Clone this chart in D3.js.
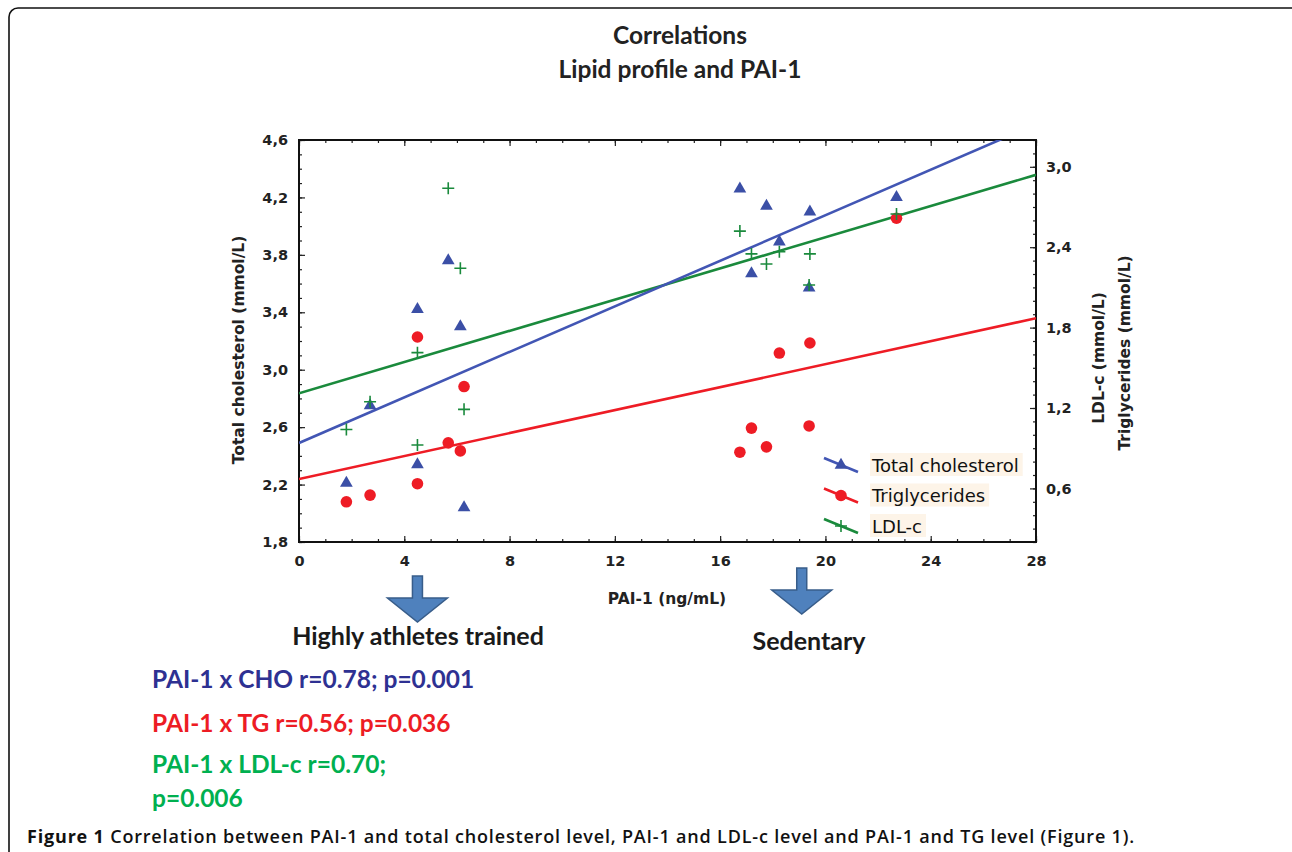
<!DOCTYPE html>
<html>
<head>
<meta charset="utf-8">
<script src="https://cdn.jsdelivr.net/npm/d3@7"></script>
<style>
body { margin:0; background:#fff; }
svg { display:block; }
</style>
</head>
<body>
<svg id="chart"></svg>
<script>
var width = 1292, height = 852;

// PAI-1 (ng/mL) of each subject
var pai = [1.8, 2.7, 4.5, 4.5, 5.67, 6.13, 6.27, 16.75, 17.19, 17.76, 18.25, 19.41, 19.38, 22.7];
var cho = [2.21, 2.75, 3.42, 2.34, 3.76, 3.30, 2.04, 4.26, 3.67, 4.14, 3.89, 4.10, 3.57, 4.20];
var tg  = [0.50, 0.55, 1.73, 0.635, 0.94, 0.88, 1.36, 0.87, 1.05, 0.91, 1.61, 1.685, 1.066, 2.616];
var ldl = [1.04, 1.247, 1.613, 0.924, 2.84, 2.243, 1.19, 2.52, 2.35, 2.275, 2.366, 2.35, 2.118, 2.648];

// fitted lines, value at PAI-1 = 0 and 28
var fitX = [0, 28];
var fitCHO = [2.49, 4.71];
var fitTG = [0.67, 1.87];
var fitLDL = [1.31, 2.94];

var xTicks = [0, 4, 8, 12, 16, 20, 24, 28];
var yLeftTicks = [1.8, 2.2, 2.6, 3.0, 3.4, 3.8, 4.2, 4.6];
var yRightTicks = [0.6, 1.2, 1.8, 2.4, 3.0];
var groupX = [4.5, 19.1];
var groupNames = ["Highly athletes trained", "Sedentary"];
var legendNames = ["Total cholesterol", "Triglycerides", "LDL-c"];
var statLines = ["PAI-1 x CHO r=0.78; p=0.001", "PAI-1 x TG r=0.56; p=0.036", "PAI-1 x LDL-c r=0.70;", "p=0.006"];

var cBlue = "#3b4fa6", cRed = "#ee1c25", cGreen = "#1a8a3c";

var svg = d3.select("#chart").attr("width", width).attr("height", height);

// outer frame
svg.append("rect").attr("x", 9).attr("y", 8).attr("width", 1300).attr("height", 900)
    .attr("rx", 9).attr("fill", "none").attr("stroke", "#111").attr("stroke-width", 1.6);

// titles
svg.append("text").attr("x", 680).attr("y", 44).attr("text-anchor", "middle")
    .style("font", "bold 24.5px Lato").attr("fill", "#222").text("Correlations");
svg.append("text").attr("x", 680).attr("y", 78).attr("text-anchor", "middle")
    .style("font", "bold 24.5px Lato").attr("fill", "#222").text("Lipid profile and PAI-1");

var margin = {left:299, right:1036, top:140, bottom:542};
var xScale = d3.scaleLinear().domain([0, 28]).range([margin.left, margin.right]);
var yLeft = d3.scaleLinear().domain([1.8, 4.6]).range([margin.bottom, margin.top]);
var yRight = d3.scaleLinear().domain([0.2, 3.2]).range([margin.bottom, margin.top]);

var comma = function(d){ return d.toFixed(1).replace(".", ","); };
var range = function(a, b, s){ var r = []; for (var v = a; v <= b + 1e-9; v += s) r.push(+v.toFixed(2)); return r; };

function styleAxis(g){
    g.selectAll("text").style("font", "bold 14.5px 'DejaVu Sans'").attr("fill", "#222");
    g.selectAll("line").attr("stroke", "#222").attr("stroke-width", 1.2);
    g.select(".domain").remove();
}

// minor ticks
svg.append("g").attr("transform", "translate(" + margin.left + ",0)")
    .call(d3.axisLeft(yLeft).tickValues(range(1.8, 4.6, 0.1)).tickSize(-3).tickFormat("")).call(styleAxis);
svg.append("g").attr("transform", "translate(" + margin.right + ",0)")
    .call(d3.axisRight(yRight).tickValues(range(0.2, 3.2, 0.1)).tickSize(-3).tickFormat("")).call(styleAxis);
svg.append("g").attr("transform", "translate(0," + margin.bottom + ")")
    .call(d3.axisBottom(xScale).tickValues(range(0, 28, 1)).tickSize(-3).tickFormat("")).call(styleAxis);
svg.append("g").attr("transform", "translate(0," + margin.top + ")")
    .call(d3.axisTop(xScale).tickValues(range(0, 28, 1)).tickSize(-3).tickFormat("")).call(styleAxis);

// major ticks + labels
svg.append("g").attr("transform", "translate(" + margin.left + ",0)")
    .call(d3.axisLeft(yLeft).tickValues(yLeftTicks).tickSize(-6).tickPadding(11).tickFormat(comma)).call(styleAxis);
svg.append("g").attr("transform", "translate(" + margin.right + ",0)")
    .call(d3.axisRight(yRight).tickValues(yRightTicks).tickSize(-6).tickPadding(10).tickFormat(comma)).call(styleAxis);
svg.append("g").attr("transform", "translate(0," + margin.bottom + ")")
    .call(d3.axisBottom(xScale).tickValues(xTicks).tickSize(-6).tickPadding(14).tickFormat(d3.format("d"))).call(styleAxis);
svg.append("g").attr("transform", "translate(0," + margin.top + ")")
    .call(d3.axisTop(xScale).tickValues(xTicks).tickSize(-6).tickFormat("")).call(styleAxis);

// plot frame
svg.append("rect").attr("x", margin.left).attr("y", margin.top)
    .attr("width", margin.right - margin.left).attr("height", margin.bottom - margin.top)
    .attr("fill", "none").attr("stroke", "#111").attr("stroke-width", 2);

// axis titles
var titleFont = "bold 15.5px 'DejaVu Sans'";
svg.append("text").attr("transform", "translate(244,350) rotate(-90)").attr("text-anchor", "middle")
    .style("font", titleFont).attr("fill", "#222").text("Total cholesterol (mmol/L)");
svg.append("text").attr("transform", "translate(1104,358) rotate(-90)").attr("text-anchor", "middle")
    .style("font", titleFont).attr("fill", "#222").text("LDL-c (mmol/L)");
svg.append("text").attr("transform", "translate(1130,353) rotate(-90)").attr("text-anchor", "middle")
    .style("font", titleFont).attr("fill", "#222").text("Triglycerides (mmol/L)");
svg.append("text").attr("x", 667).attr("y", 604).attr("text-anchor", "middle")
    .style("font", titleFont).attr("fill", "#222").text("PAI-1 (ng/mL)");

// clip for fit lines
svg.append("clipPath").attr("id", "plotclip").append("rect")
    .attr("x", margin.left).attr("y", margin.top)
    .attr("width", margin.right - margin.left).attr("height", margin.bottom - margin.top);

var chartLayer = svg.append("g").attr("clip-path", "url(#plotclip)");

var fits = [
    {vals: fitTG, y: yRight, color: cRed},
    {vals: fitLDL, y: yRight, color: cGreen},
    {vals: fitCHO, y: yLeft, color: "#4256b4"}
];
var lineGen = d3.line();
fits.forEach(function(f){
    chartLayer.append("path")
        .attr("d", lineGen(fitX.map(function(x, i){ return [xScale(x), f.y(f.vals[i])]; })))
        .attr("fill", "none").attr("stroke", f.color).attr("stroke-width", 2.6);
});

var tri = d3.symbol().type(d3.symbolTriangle).size(70);
var plus = "M-6,0H6M0,-6V6";

var pts = svg.append("g");
pts.selectAll(".cho").data(pai).enter().append("path").attr("class", "cho")
    .attr("d", tri)
    .attr("transform", function(d, i){ return "translate(" + xScale(d) + "," + yLeft(cho[i]) + ")"; })
    .attr("fill", cBlue);
pts.selectAll(".tg").data(pai).enter().append("circle").attr("class", "tg")
    .attr("cx", function(d){ return xScale(d); })
    .attr("cy", function(d, i){ return yRight(tg[i]); })
    .attr("r", 5.8).attr("fill", cRed);
pts.selectAll(".ldl").data(pai).enter().append("path").attr("class", "ldl")
    .attr("d", plus)
    .attr("transform", function(d, i){ return "translate(" + xScale(d) + "," + yRight(ldl[i]) + ")"; })
    .attr("fill", "none").attr("stroke", cGreen).attr("stroke-width", 1.6);

// legend
var legend = svg.append("g").attr("transform", "translate(824,465)");
var legColors = ["#4256b4", cRed, cGreen];
legendNames.forEach(function(name, i){
    var g = legend.append("g").attr("transform", "translate(0," + (i * 30.5) + ")");
    g.append("rect").attr("x", 46).attr("y", -12).attr("width", 10).attr("height", 23)
        .attr("fill", "#fdf4e8");
    g.append("line").attr("x1", 0).attr("y1", -7).attr("x2", 34).attr("y2", 7)
        .attr("stroke", legColors[i]).attr("stroke-width", 2.6);
    if (i === 0) g.append("path").attr("d", tri).attr("transform", "translate(17,0)").attr("fill", cBlue);
    if (i === 1) g.append("circle").attr("cx", 17).attr("r", 5.8).attr("fill", cRed);
    if (i === 2) g.append("path").attr("d", plus).attr("transform", "translate(17,0)")
        .attr("fill", "none").attr("stroke", cGreen).attr("stroke-width", 1.6);
    g.append("text").attr("x", 48).attr("y", 6.5).style("font", "18px 'DejaVu Sans'").attr("fill", "#111").text(name);
});
legend.selectAll("rect").each(function(){
    var t = this.parentNode.querySelector("text");
    d3.select(this).attr("width", t.getComputedTextLength() + 6);
});

// group arrows
var arrowTop = [576, 568];
groupX.forEach(function(v, i){
    var cx = xScale(v), t = arrowTop[i], h = t + 22;
    svg.append("path")
        .attr("d", "M" + (cx - 5) + "," + t + "H" + (cx + 5) + "V" + h + "H" + (cx + 30) +
            "L" + cx + "," + (h + 24) + "L" + (cx - 30) + "," + h + "H" + (cx - 5) + "Z")
        .attr("fill", "#4f81bd").attr("stroke", "#385d8a").attr("stroke-width", 1.5);
});
var groupY = [645, 650];
groupNames.forEach(function(n, i){
    svg.append("text").attr("x", i === 0 ? 418 : 809).attr("y", groupY[i]).attr("text-anchor", "middle")
        .style("font", "bold 25px Lato").attr("fill", "#1a1a1a").text(n);
});

// correlation stats
var statColors = ["#2e3192", "#ed1c24", "#00b050", "#00b050"];
var statY = [688, 732, 773, 807];
statLines.forEach(function(s, i){
    svg.append("text").attr("x", 152).attr("y", statY[i])
        .style("font", "bold 24.5px Lato").attr("fill", statColors[i]).text(s);
});

// caption, spread to the width it has in the figure
var cap = svg.append("text").attr("x", 27).attr("y", 843).style("font", "600 18px 'Open Sans'").attr("fill", "#111");
cap.append("tspan").style("font-weight", "bold").text("Figure 1");
cap.append("tspan").text(" Correlation between PAI-1 and total cholesterol level, PAI-1 and LDL-c level and PAI-1 and TG level (Figure 1).");
var capLen = cap.node().getComputedTextLength();
var capChars = cap.text().length;
cap.style("letter-spacing", Math.max(-0.5, (1108 - capLen) / capChars) + "px");
</script>
</body>
</html>
